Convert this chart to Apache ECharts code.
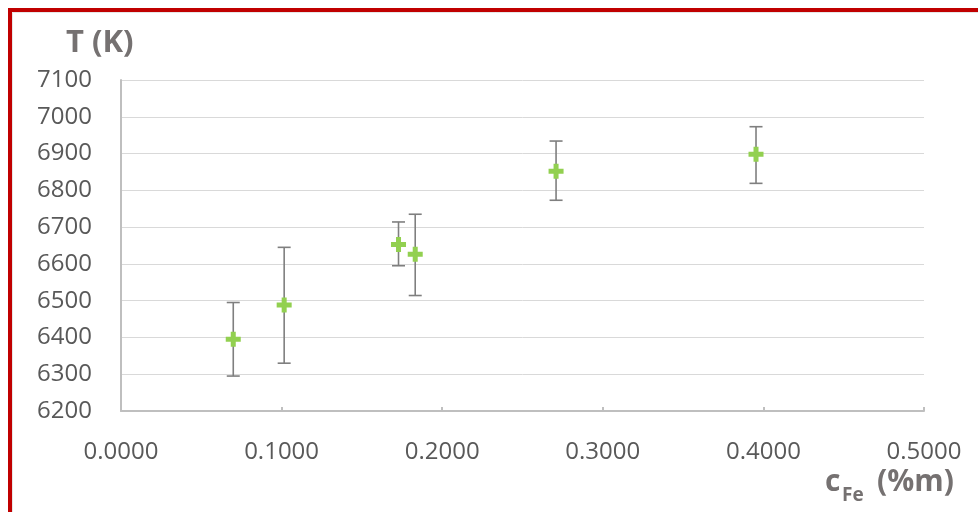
<!DOCTYPE html>
<html>
<head>
<meta charset="utf-8">
<script src="https://cdn.jsdelivr.net/npm/echarts@6/dist/echarts.min.js"></script>
<style>
html,body{margin:0;padding:0;background:#fff;}
#c{width:978px;height:512px;}
</style>
</head>
<body>
<div id="c"></div>
<script>
// Data
const cFe = [0.0699, 0.1016, 0.1728, 0.1832, 0.2709, 0.3954];
const T = [6395, 6488, 6653, 6626, 6852, 6898];
const errLow = [6295, 6330, 6595, 6514, 6773, 6819];
const errHigh = [6495, 6645, 6714, 6735, 6934, 6973];
const xTicks = [0, 0.1, 0.2, 0.3, 0.4, 0.5];
const yTicks = [6200, 6300, 6400, 6500, 6600, 6700, 6800, 6900, 7000, 7100];

const FONT = '"Open Sans", "Liberation Sans", sans-serif';
const chart = echarts.init(document.getElementById('c'), null, {renderer: 'canvas'});

const option = {
  animation: false,
  backgroundColor: '#ffffff',
  grid: {left: 121, top: 80, width: 803, height: 331, containLabel: false},
  xAxis: {
    type: 'value',
    min: xTicks[0], max: xTicks[xTicks.length - 1], interval: 0.1,
    axisLine: {show: true, lineStyle: {color: '#bfbfbf', width: 2}},
    axisTick: {show: true, inside: true, length: 4, lineStyle: {color: '#bfbfbf', width: 2}},
    splitLine: {show: false},
    axisLabel: {color: '#595959', fontSize: 24, fontFamily: FONT, margin: 29,
      formatter: v => v.toFixed(4)}
  },
  yAxis: {
    type: 'value',
    min: yTicks[0], max: yTicks[yTicks.length - 1], interval: 100,
    axisLine: {show: true, lineStyle: {color: '#bfbfbf', width: 2}},
    axisTick: {show: false},
    splitLine: {show: true, lineStyle: {color: '#d9d9d9', width: 1}},
    axisLabel: {color: '#595959', fontSize: 24, fontFamily: FONT, margin: 29,
      formatter: v => String(v)}
  },
  graphic: [
    {type: 'rect', z: 100, silent: true,
      shape: {x: 10, y: 10, width: 1200, height: 800},
      style: {fill: 'none', stroke: '#c00000', lineWidth: 4}},
    {type: 'rect', z: 99, silent: true,
      shape: {x: 12.5, y: 12.5, width: 1200, height: 800},
      style: {fill: 'none', stroke: '#e6e6e6', lineWidth: 1}},
    {type: 'text', left: 66, top: 28, z: 50,
      style: {text: 'T (K)', fill: '#757171', fontSize: 31, fontWeight: 'bold', fontFamily: FONT}},
    {type: 'text', left: 825, top: 467, z: 50,
      style: {text: 'c', fill: '#757171', fontSize: 30, fontWeight: 'bold', fontFamily: FONT}},
    {type: 'text', left: 842, top: 486, z: 50,
      style: {text: 'Fe', fill: '#757171', fontSize: 19, fontWeight: 'bold', fontFamily: FONT}},
    {type: 'text', left: 877, top: 467, z: 50,
      style: {text: '(%m)', fill: '#757171', fontSize: 30, fontWeight: 'bold', fontFamily: FONT}}
  ],
  series: [
    {
      type: 'custom',
      z: 2,
      data: cFe.map((x, i) => [x, errLow[i], errHigh[i]]),
      renderItem: function (params, api) {
        const x = api.value(0);
        const lo = api.coord([x, api.value(1)]);
        const hi = api.coord([x, api.value(2)]);
        const w = 6.5;
        const st = {stroke: '#7f7f7f', lineWidth: 1.6};
        return {
          type: 'group',
          children: [
            {type: 'line', shape: {x1: lo[0], y1: lo[1], x2: hi[0], y2: hi[1]}, style: st},
            {type: 'line', shape: {x1: lo[0] - w, y1: lo[1], x2: lo[0] + w, y2: lo[1]}, style: st},
            {type: 'line', shape: {x1: hi[0] - w, y1: hi[1], x2: hi[0] + w, y2: hi[1]}, style: st}
          ]
        };
      }
    },
    {
      type: 'scatter',
      z: 5,
      data: cFe.map((x, i) => [x, T[i]]),
      symbol: 'path://M5,0h5v5h5v5h-5v5h-5v-5h-5v-5h5z',
      symbolSize: 15,
      itemStyle: {color: '#92d050', opacity: 1}
    }
  ]
};
chart.setOption(option);
</script>
</body>
</html>
